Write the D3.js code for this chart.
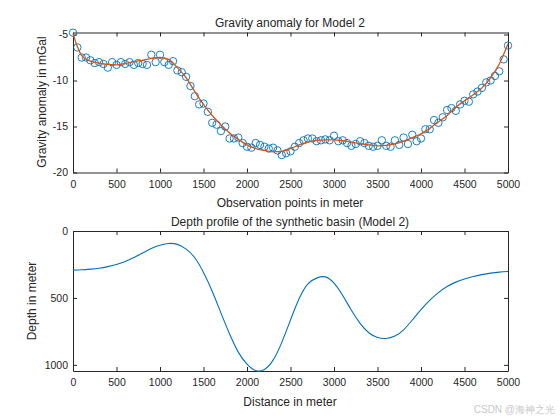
<!DOCTYPE html>
<html>
<head>
<meta charset="utf-8">
<script src="https://cdn.jsdelivr.net/npm/d3@7"></script>
<style>
  body { margin: 0; background: #fff; }
  text { font-family: "Liberation Sans", Arial, sans-serif; fill: #262626; }
  .tick text { font-size: 10.5px; }
  .domain, .tick line { stroke: #262626; }
</style>
</head>
<body>
<div id="container"></div>
<script>
const width = 560, height = 420;

// observed gravity anomaly (mGal), one value every 50 m
const obsX = d3.range(0, 5001, 50);
const obsG = [
  -4.8, -6.4, -7.5, -7.5, -7.8, -8.1, -8.0, -8.2, -8.6, -8.0,
  -8.3, -8.0, -8.2, -8.0, -8.3, -8.1, -8.2, -8.3, -7.2, -8.0,
  -7.2, -8.0, -8.3, -7.9, -8.9, -9.1, -9.6, -10.6, -11.7, -12.6,
  -12.5, -13.4, -14.6, -14.8, -15.5, -15.0, -16.3, -16.3, -16.2, -16.8,
  -17.2, -17.3, -16.8, -17.0, -17.2, -17.4, -17.3, -17.6, -18.1, -17.9,
  -17.7, -17.2, -16.8, -16.5, -16.3, -16.3, -16.6, -16.5, -16.4, -16.5,
  -16.0, -16.6, -16.5, -16.8, -17.1, -16.9, -16.6, -16.8, -17.1, -17.2,
  -17.1, -16.5, -17.1, -17.2, -16.5, -17.0, -16.2, -16.9, -15.9, -16.6,
  -16.3, -15.3, -15.3, -14.3, -14.6, -14.0, -13.2, -13.0, -13.3, -12.6,
  -12.2, -12.3, -11.5, -11.2, -10.8, -10.2, -10.0, -9.5, -9.0, -7.7,
  -6.2
];

// calculated (fitted) anomaly
const fitX = [0, 50, 100, 200, 300, 400, 500, 600, 700, 800, 900, 1000,
  1100, 1200, 1300, 1400, 1500, 1600, 1700, 1800, 1900, 2000, 2100, 2200,
  2300, 2400, 2500, 2600, 2700, 2800, 2900, 3000, 3100, 3200, 3300, 3400,
  3500, 3600, 3700, 3800, 3900, 4000, 4100, 4200, 4300, 4400, 4500, 4600,
  4700, 4800, 4900, 5000];
const fitG = [-4.9, -6.3, -7.3, -7.9, -8.1, -8.25, -8.3, -8.15, -7.95, -7.8,
  -7.6, -7.5, -7.7, -8.6, -9.7, -11.2, -12.6, -13.8, -14.8, -15.7, -16.4,
  -17.0, -17.4, -17.6, -17.75, -17.7, -17.4, -17.0, -16.7, -16.5, -16.45,
  -16.45, -16.55, -16.7, -16.85, -17.0, -17.1, -17.05, -16.9, -16.6, -16.2,
  -15.8, -15.2, -14.5, -13.8, -12.9, -12.2, -11.55, -10.8, -9.7, -8.2, -6.0];

// basin depth profile (m), every 100 m
const depthX = d3.range(0, 5001, 100);
const depthZ = [292, 290, 285, 278, 266, 250, 228, 198, 165, 130,
  107, 93, 100, 135, 200, 310, 450, 612, 770, 905,
  995, 1043, 1035, 965, 832, 665, 505, 395, 352, 343,
  390, 482, 592, 690, 760, 795, 803, 785, 738, 665,
  587, 518, 460, 415, 382, 358, 340, 326, 315, 307, 302];

const xTicks = [0, 500, 1000, 1500, 2000, 2500, 3000, 3500, 4000, 4500, 5000];
const gTicks = [-20, -15, -10, -5];
const zTicks = [0, 500, 1000];

var plain = function(d) { return String(d); };

var svg = d3.select("#container").append("svg")
    .attr("width", width)
    .attr("height", height);

svg.append("rect").attr("width", width).attr("height", height).attr("fill", "#fff");

function box(g, x, y) {
    var d = y.range();
    g.append("g").attr("transform", `translate(0,${d3.max(d)})`)
        .call(d3.axisBottom(x).tickValues(xTicks).tickFormat(plain)
            .tickSizeInner(-4).tickSizeOuter(0).tickPadding(8));
    g.append("g").attr("transform", `translate(0,${d3.min(d)})`)
        .call(d3.axisTop(x).tickValues(xTicks).tickSizeInner(-4).tickSizeOuter(0).tickFormat(""));
    return g;
}

// ---- top panel: gravity
var x1 = d3.scaleLinear().domain([0, 5000]).range([73, 508]);
var y1 = d3.scaleLinear().domain([-20, -4.78]).range([172.5, 32.5]);

var topPanel = svg.append("g");
box(topPanel, x1, y1);
topPanel.append("g").attr("transform", `translate(${73},0)`)
    .call(d3.axisLeft(y1).tickValues(gTicks).tickFormat(plain)
        .tickSizeInner(-4).tickSizeOuter(0).tickPadding(5));
topPanel.append("g").attr("transform", `translate(${508},0)`)
    .call(d3.axisRight(y1).tickValues(gTicks).tickSizeInner(-4).tickSizeOuter(0).tickFormat(""));

topPanel.selectAll("circle")
    .data(obsX)
    .enter()
    .append("circle")
    .attr("cx", function(d) { return x1(d); })
    .attr("cy", function(d, i) { return y1(obsG[i]); })
    .attr("r", 3.7)
    .attr("fill", "none")
    .attr("stroke", "#0072BD")
    .attr("stroke-width", 0.9);

topPanel.append("path")
    .datum(fitX)
    .attr("fill", "none")
    .attr("stroke", "#D95319")
    .attr("stroke-width", 1.3)
    .attr("d", d3.line()
        .x(function(d) { return x1(d); })
        .y(function(d, i) { return y1(fitG[i]); })
        .curve(d3.curveMonotoneX));

topPanel.append("text").attr("x", 290).attr("y", 27).attr("text-anchor", "middle")
    .style("font-size", "12px").text("Gravity anomaly for Model 2");
topPanel.append("text").attr("x", 290).attr("y", 207).attr("text-anchor", "middle")
    .style("font-size", "12px").text("Observation points in meter");
topPanel.append("text")
    .attr("transform", `translate(${46}, ${102}) rotate(-90)`)
    .attr("text-anchor", "middle")
    .style("font-size", "12px").text("Gravity anomaly in mGal");

// ---- bottom panel: depth
var x2 = d3.scaleLinear().domain([0, 5000]).range([73, 508]);
var y2 = d3.scaleLinear().domain([0, 1046]).range([231, 371]);

var botPanel = svg.append("g");
box(botPanel, x2, y2);
botPanel.append("g").attr("transform", `translate(${73},0)`)
    .call(d3.axisLeft(y2).tickValues(zTicks).tickFormat(plain)
        .tickSizeInner(-4).tickSizeOuter(0).tickPadding(5));
botPanel.append("g").attr("transform", `translate(${508},0)`)
    .call(d3.axisRight(y2).tickValues(zTicks).tickSizeInner(-4).tickSizeOuter(0).tickFormat(""));

botPanel.append("path")
    .datum(depthX)
    .attr("fill", "none")
    .attr("stroke", "#0072BD")
    .attr("stroke-width", 1.1)
    .attr("d", d3.line()
        .x(function(d) { return x2(d); })
        .y(function(d, i) { return y2(depthZ[i]); })
        .curve(d3.curveNatural));

botPanel.append("text").attr("x", 290).attr("y", 226).attr("text-anchor", "middle")
    .style("font-size", "12px").text("Depth profile of the synthetic basin (Model 2)");
botPanel.append("text").attr("x", 290).attr("y", 406).attr("text-anchor", "middle")
    .style("font-size", "12px").text("Distance in meter");
botPanel.append("text")
    .attr("transform", `translate(${36}, ${301}) rotate(-90)`)
    .attr("text-anchor", "middle")
    .style("font-size", "12px").text("Depth in meter");

svg.selectAll(".domain").attr("stroke-width", 1);

// watermark
svg.append("text").attr("x", 555).attr("y", 413).attr("text-anchor", "end")
    .style("font-size", "10px").style("fill", "#c8c8c8")
    .text("CSDN @海神之光");
</script>
</body>
</html>
